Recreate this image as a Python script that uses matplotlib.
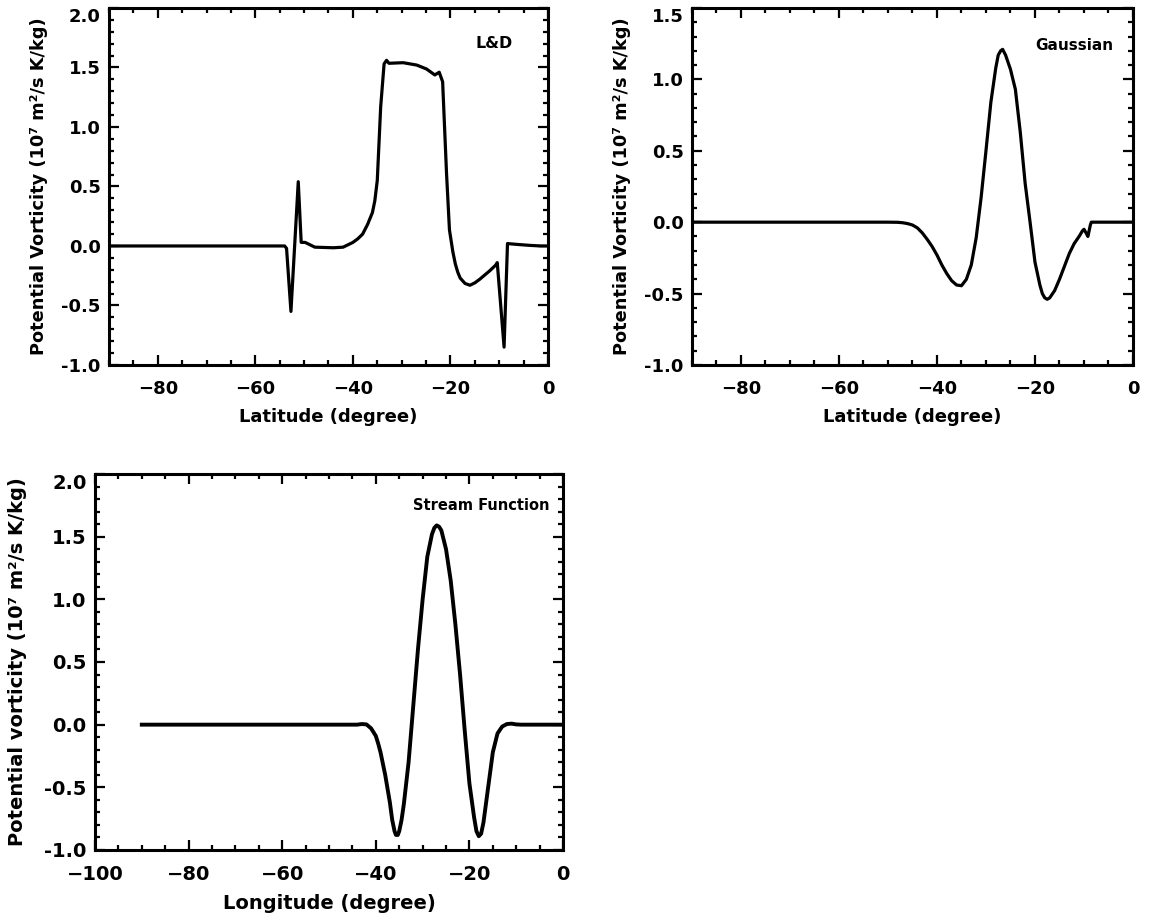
import numpy as np
import matplotlib
matplotlib.use('Agg')
import matplotlib.pyplot as plt
from matplotlib.ticker import MultipleLocator, FuncFormatter

plt.rcParams['font.family'] = ['DejaVu Sans']
plt.rcParams['font.weight'] = 'bold'
plt.rcParams['axes.labelweight'] = 'bold'

# L&D profile (latitude, PV in 1e7 m2/s K/kg)
ld_lat = [-90, -60, -54.0, -53.6, -52.7, -51.2, -50.6, -49.8, -47.8, -44.0,
          -42.0, -41.0, -40.0, -39.0, -38.0, -37.0, -36.0, -35.5, -35.0,
          -34.3, -33.6, -33.1, -32.6, -29.7, -26.9, -24.9, -23.2, -22.3,
          -21.6, -20.8, -20.2, -19.5, -19.0, -18.5, -18.0, -17.0, -16.0,
          -15.0, -14.0, -11.9, -10.7, -10.4, -9.0, -8.3, -6.0, -3.7, -1.5, 0]
ld_pv = [0.0, 0.0, 0.0, -0.02, -0.55, 0.54, 0.03, 0.03, -0.01, -0.015,
         -0.01, 0.01, 0.03, 0.06, 0.10, 0.18, 0.28, 0.38, 0.55,
         1.17, 1.53, 1.56, 1.535, 1.54, 1.52, 1.487, 1.437, 1.46,
         1.38, 0.61, 0.135, -0.05, -0.15, -0.22, -0.27, -0.315, -0.33,
         -0.31, -0.28, -0.207, -0.16, -0.14, -0.85, 0.02, 0.012, 0.005, 0.0, 0.0]

# Gaussian profile
ga_lat = [-90, -50, -48, -47, -46, -45, -44, -43, -42, -41, -40, -39, -38,
          -37, -36, -35, -34, -33, -32, -31, -30, -29, -28, -27.5, -27,
          -26.6, -26, -25, -24, -23, -22, -21, -20, -19, -18.5, -18, -17.5,
          -17, -16, -15, -14, -13, -12, -11, -10.3, -10, -9.5, -9.2, -8.7,
          -8.5, 0]
ga_pv = [0.0, 0.0, -0.001, -0.004, -0.01, -0.02, -0.04, -0.075, -0.12, -0.17,
         -0.23, -0.30, -0.36, -0.41, -0.44, -0.445, -0.40, -0.30, -0.11,
         0.17, 0.50, 0.84, 1.08, 1.17, 1.20, 1.21, 1.17, 1.07, 0.93, 0.63,
         0.27, 0.0, -0.28, -0.44, -0.50, -0.53, -0.54, -0.53, -0.48, -0.40,
         -0.31, -0.22, -0.15, -0.10, -0.06, -0.05, -0.08, -0.10, -0.02, 0.0,
         0.0]

# Stream function profile
sf_lon = [-90, -45, -44, -43, -42, -41, -40, -39.5, -39, -38, -37, -36.5,
          -36, -35.7, -35.3, -35, -34.5, -34, -33, -32, -31, -30, -29, -28,
          -27.5, -27, -26.5, -26, -25, -24, -23, -22, -21, -20, -19, -18.5,
          -18, -17.5, -17, -16, -15, -14, -13, -12, -11, -10, -9, 0]
sf_pv = [0.0, 0.0, 0.0, 0.005, 0.002, -0.03, -0.09, -0.15, -0.22, -0.40,
         -0.62, -0.76, -0.85, -0.88, -0.88, -0.85, -0.76, -0.63, -0.30, 0.15,
         0.60, 1.00, 1.34, 1.52, 1.57, 1.59, 1.58, 1.55, 1.40, 1.15, 0.80,
         0.40, -0.05, -0.47, -0.74, -0.85, -0.89, -0.87, -0.78, -0.50,
         -0.22, -0.07, -0.015, 0.005, 0.008, 0.002, 0.0, 0.0]

ylabel_a = 'Potential Vorticity (10\u2077 m\u00b2/s K/kg)'
ylabel_b = 'Potential vorticity (10\u2077 m\u00b2/s K/kg)'


def style_axes(ax, xlim, ylim, fs):
    ax.set_xlim(*xlim)
    ax.set_ylim(*ylim)
    ax.xaxis.set_major_locator(MultipleLocator(20))
    ax.xaxis.set_minor_locator(MultipleLocator(5))
    ax.yaxis.set_major_locator(MultipleLocator(0.5))
    ax.yaxis.set_minor_locator(MultipleLocator(0.1))
    ytop = ylim[1]
    # top label is drawn by hand a bit lower, IDL style
    ax.yaxis.set_major_formatter(FuncFormatter(
        lambda v, p: '' if abs(v - ytop) < 1e-6 else '%.1f' % v))
    ax.tick_params(which='both', direction='in', top=True, right=True,
                   width=1.6, labelsize=fs)
    ax.tick_params(which='major', length=7)
    ax.tick_params(which='minor', length=3.5)
    ax.tick_params(axis='x', pad=10.5)
    ax.tick_params(axis='y', pad=6)
    for s in ax.spines.values():
        s.set_linewidth(2.2)
    w_px = ax.get_position().width * 1150
    ax.text(-8.3 / w_px, 1.0, '%.1f' % ytop, transform=ax.transAxes,
            ha='right', va='top', fontsize=fs)


fig = plt.figure(figsize=(11.5, 9.24), dpi=100)

ax1 = fig.add_axes([0.0948, 0.605, 0.3817, 0.3864])
ax1.plot(ld_lat, ld_pv, color='black', lw=2.3)
style_axes(ax1, (-90, 0), (-1.0, 2.0), 13)
ax1.set_xlabel('Latitude (degree)', fontsize=13)
ax1.set_ylabel(ylabel_a, fontsize=12.8)
ax1.xaxis.set_label_coords(0.5, -0.12)
ax1.yaxis.set_label_coords(-0.14, 0.5)
ax1.text(-11, 1.70, 'L&D', ha='center', va='center', fontsize=11.4)

ax2 = fig.add_axes([0.6017, 0.605, 0.3835, 0.3864])
ax2.plot(ga_lat, ga_pv, color='black', lw=2.3)
style_axes(ax2, (-90, 0), (-1.0, 1.5), 13)
ax2.set_xlabel('Latitude (degree)', fontsize=13)
ax2.set_ylabel(ylabel_a, fontsize=12.8)
ax2.xaxis.set_label_coords(0.5, -0.12)
ax2.yaxis.set_label_coords(-0.138, 0.5)
ax2.text(-12, 1.24, 'Gaussian', ha='center', va='center', fontsize=11)

ax3 = fig.add_axes([0.0826, 0.0801, 0.407, 0.4069])
ax3.plot(sf_lon, sf_pv, color='black', lw=2.8)
style_axes(ax3, (-100, 0), (-1.0, 2.0), 14)
ax3.set_xlabel('Longitude (degree)', fontsize=14)
ax3.set_ylabel(ylabel_b, fontsize=14)
ax3.xaxis.set_label_coords(0.5, -0.117)
ax3.yaxis.set_label_coords(-0.145, 0.5)
ax3.text(-17.4, 1.75, 'Stream Function', ha='center', va='center',
         fontsize=10.5)

fig.savefig('out.png', dpi=100)
